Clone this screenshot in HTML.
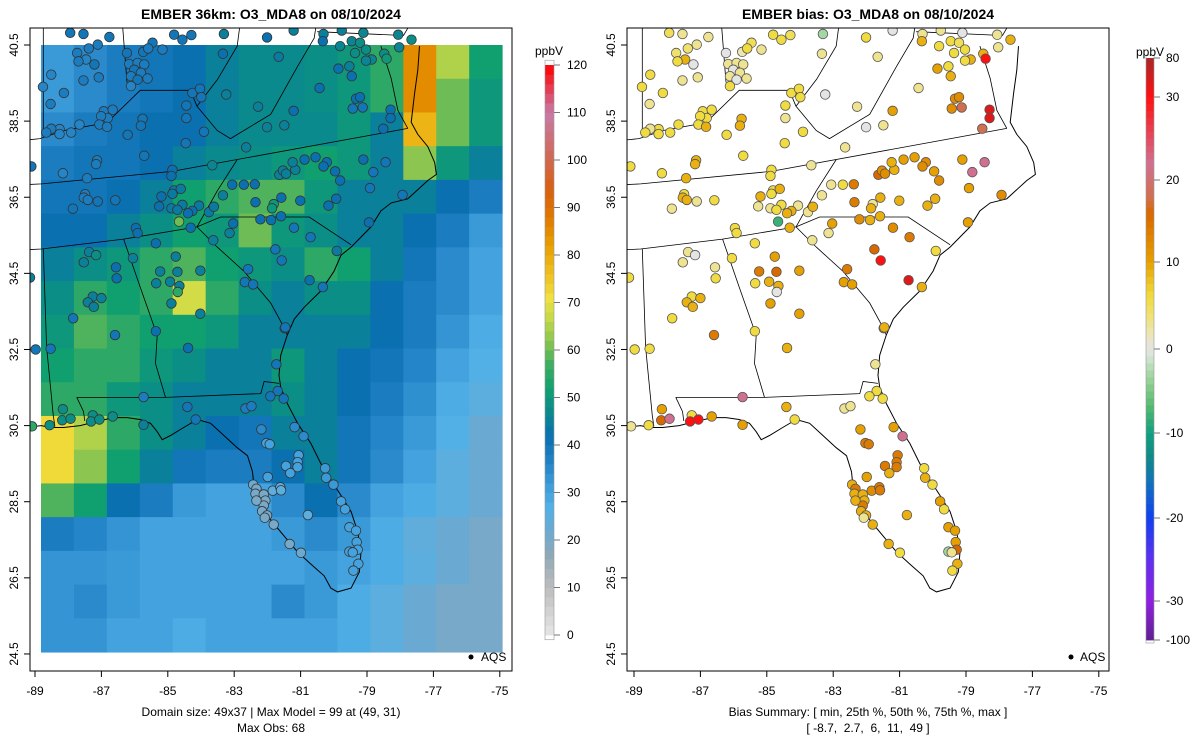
<!DOCTYPE html>
<html><head><meta charset="utf-8">
<style>
html,body{margin:0;padding:0;background:#fff;}
svg{display:block;font-family:"Liberation Sans",sans-serif;}
</style></head>
<body>
<svg id="chart" width="1200" height="750" viewBox="0 0 1200 750">
  <defs>
    <clipPath id="clipL"><rect x="30" y="28" width="482" height="643"/></clipPath>
    <clipPath id="clipR"><rect x="627" y="28" width="482" height="643"/></clipPath>
  </defs>
  <text x="271" y="19" text-anchor="middle" font-size="14" font-weight="bold">EMBER 36km: O3_MDA8 on 08/10/2024</text>
  <text x="868" y="19" text-anchor="middle" font-size="14" font-weight="bold">EMBER bias: O3_MDA8 on 08/10/2024</text>
  <g id="gridL" clip-path="url(#clipL)"></g>
  <g id="linesL" clip-path="url(#clipL)"></g>
  <g id="sitesL" clip-path="url(#clipL)"></g>
  <g id="linesR" clip-path="url(#clipR)"></g>
  <g id="sitesR" clip-path="url(#clipR)"></g>
  <rect x="30" y="28" width="482" height="643" fill="none" stroke="#000" stroke-width="1"/>
  <rect x="627" y="28" width="482" height="643" fill="none" stroke="#000" stroke-width="1"/>
  <g id="axes"></g>
  <g id="cbL"></g>
  <g id="cbR"></g>
  <circle cx="471" cy="657" r="2.5" fill="#000"/>
  <text x="481" y="661" font-size="12">AQS</text>
  <circle cx="1071" cy="657" r="2.5" fill="#000"/>
  <text x="1080" y="661" font-size="12">AQS</text>
  <text x="271" y="716" text-anchor="middle" font-size="12">Domain size: 49x37 | Max Model = 99 at (49, 31)</text>
  <text x="271" y="732" text-anchor="middle" font-size="12">Max Obs: 68</text>
  <text x="868" y="716" text-anchor="middle" font-size="12">Bias Summary: [ min, 25th %, 50th %, 75th %, max ]</text>
  <text x="868" y="732" text-anchor="middle" font-size="12" xml:space="preserve">[ -8.7,  2.7,  6,  11,  49 ]</text>
</svg>
<script>
// ---------- data ----------
const xTicks = [-89,-87,-85,-83,-81,-79,-77,-75];
const yTicks = [24.5,26.5,28.5,30.5,32.5,34.5,36.5,38.5,40.5];
const modelTicks = [0,10,20,30,40,50,60,70,80,90,100,110,120];
const biasTicks = [-100,-30,-20,-10,0,10,20,30,80];
const gridLonRange = [-88.82, -74.93];
const gridLatRange = [24.55, 40.5];
// model O3 grid (rows north->south, cols west->east), ppbV
const gridValues = [
[32,35,38,40,42,45,47,47,48,50,55,85,65,52],
[32,35,38,40,42,45,47,47,48,50,55,85,60,50],
[35,38,40,42,42,45,47,47,47,50,45,78,60,50],
[38,40,40,42,45,47,48,50,52,50,45,62,50,45],
[40,40,42,45,52,55,58,58,50,45,45,45,42,38],
[42,42,45,48,52,50,60,50,48,45,45,42,38,32],
[45,48,50,55,58,52,50,48,55,52,45,40,35,30],
[48,55,52,55,68,55,48,45,48,48,42,38,35,30],
[50,58,55,52,52,50,45,45,45,45,42,38,33,28],
[52,55,55,50,48,45,45,50,45,42,40,36,30,27],
[55,55,50,48,45,45,45,48,45,42,38,34,28,25],
[72,65,55,48,45,42,40,45,45,40,36,32,27,22],
[72,62,52,45,40,38,38,42,45,40,35,30,25,22],
[58,52,42,38,32,30,30,35,42,35,30,28,25,22],
[38,36,33,30,30,30,30,32,35,32,28,24,22,20],
[33,33,32,30,30,30,30,30,32,30,28,25,22,20],
[33,35,32,30,30,30,30,35,32,28,25,22,20,20],
[33,33,30,30,28,30,30,30,30,28,25,22,20,20]
];
const siteLon = [-87.94,-87.54,-86.76,-87.38,-87.11,-87.73,-87.46,-87.69,-87.21,-87.54,-87.08,-88.51,-88.76,-88.13,-88.53,-86.23,-85.74,-85.46,-85.59,-85.16,-86.16,-85.91,-85.71,-86.01,-85.81,-86.11,-85.91,-85.61,-86.11,-84.81,-84.56,-84.29,-83.34,-83.31,-82.01,-81.66,-81.21,-80.31,-79.76,-79.11,-78.06,-78.03,-80.33,-79.81,-79.46,-79.21,-79.36,-79.03,-79.53,-78.86,-79.03,-78.48,-78.41,-77.66,-79.86,-79.46,-80.43,-84.26,-84.03,-83.99,-83.24,-82.28,-81.21,-79.33,-79.21,-79.43,-79.13,-78.29,-78.29,-78.51,-82.01,-81.49,-82.64,-84.44,-84.44,-85.76,-85.81,-86.21,-85.71,-84.46,-83.91,-86.93,-86.81,-86.66,-87.01,-87.06,-86.83,-87.66,-87.91,-88.26,-88.26,-88.51,-88.66,-87.13,-87.16,-88.16,-87.43,-83.66,-84.86,-84.89,-87.49,-87.53,-87.41,-87.11,-86.58,-87.86,-89.11,-84.81,-84.61,-85.19,-84.86,-85.26,-84.89,-84.56,-84.71,-84.06,-83.76,-83.61,-84.26,-84.39,-84.66,-84.31,-85.96,-85.91,-85.36,-83.63,-83.14,-83.03,-83.06,-82.71,-82.38,-83.34,-82.36,-81.81,-81.86,-82.21,-81.89,-81.59,-81.58,-81.64,-81.53,-81.44,-81.16,-81.24,-80.88,-80.55,-80.21,-80.31,-79.96,-79.81,-81.01,-80.16,-79.93,-79.11,-78.44,-78.81,-78.91,-77.93,-78.94,-81.20,-80.70,-79.91,-81.76,-81.57,-82.58,-82.68,-82.43,-80.73,-80.33,-81.48,-84.76,-85.23,-84.71,-84.02,-85.35,-84.93,-84.65,-84.70,-84.89,-84.02,-87.37,-87.16,-87.53,-86.05,-86.56,-86.54,-87.26,-87.00,-87.41,-87.23,-87.85,-86.59,-85.36,-89.15,-88.98,-88.53,-84.39,-81.46,-81.73,-81.69,-81.91,-81.51,-82.66,-82.48,-85.73,-84.41,-84.16,-88.16,-88.18,-87.93,-87.26,-87.31,-87.06,-86.66,-85.73,-88.56,-89.09,-82.18,-81.18,-80.91,-82.03,-81.93,-81.06,-81.09,-81.09,-81.44,-81.31,-81.99,-80.26,-80.23,-80.01,-82.43,-82.33,-82.36,-82.11,-82.06,-82.11,-82.33,-82.16,-82.01,-82.08,-81.84,-81.61,-81.59,-81.81,-80.78,-79.78,-79.66,-79.53,-79.33,-79.31,-79.28,-79.53,-79.43,-79.26,-79.41,-81.33,-80.99];
const siteLat = [40.82,40.79,40.71,40.41,40.51,40.29,40.12,40.07,39.99,39.57,39.65,39.72,39.40,39.24,38.95,40.29,40.32,40.56,40.41,40.38,40.00,40.03,39.99,39.85,39.77,39.68,39.59,39.62,39.42,40.77,40.64,40.76,40.27,40.79,40.70,40.19,40.88,40.79,40.88,40.82,40.77,40.44,40.60,40.47,40.60,40.56,40.29,40.38,39.94,40.12,40.09,40.27,40.14,40.64,39.88,39.68,39.37,39.24,39.35,39.13,39.20,38.88,38.77,39.09,39.13,38.83,38.86,38.80,38.58,38.30,38.34,38.39,37.81,38.91,38.58,38.56,38.38,38.14,37.59,37.92,38.22,38.76,38.58,38.80,38.63,38.41,38.35,38.41,38.20,38.29,38.16,38.30,38.20,37.47,37.37,37.13,37.00,37.34,37.22,37.06,36.58,36.49,36.43,36.39,36.42,36.20,37.31,36.68,36.72,36.52,36.59,36.26,36.21,36.30,36.17,36.28,36.11,36.25,36.14,36.08,35.86,35.70,35.69,35.56,35.29,35.37,35.56,35.81,36.83,36.83,36.84,36.55,36.37,36.32,36.21,35.92,35.90,36.00,36.49,37.09,37.20,37.12,37.22,37.42,37.49,37.55,37.42,37.31,37.18,36.94,36.41,36.28,36.46,37.49,37.42,37.16,36.74,36.56,35.84,35.70,35.45,35.09,35.13,34.84,34.61,34.27,34.21,34.32,34.14,33.06,34.94,34.55,34.54,34.57,34.24,34.28,34.17,34.01,33.71,33.44,35.06,34.98,34.79,34.90,34.66,34.37,33.89,33.85,33.74,33.62,33.32,32.88,32.98,34.39,32.50,32.52,32.54,33.08,32.11,31.41,31.27,31.21,30.95,31.01,31.25,30.99,30.66,30.93,30.64,30.68,30.77,30.61,30.66,30.74,30.52,30.51,30.48,30.40,30.46,30.22,30.04,30.01,29.72,29.54,29.41,29.44,29.25,29.15,29.38,29.13,28.95,28.95,28.84,28.71,28.69,28.53,28.40,28.53,28.25,28.14,28.08,28.79,28.88,28.80,27.90,28.15,28.51,28.30,27.83,27.74,27.44,27.24,27.19,27.17,26.87,26.69,27.39,27.16];
const siteObs = [40,40,40,38,38,38,36,38,40,38,38,36,36,38,38,40,40,40,38,38,38,38,38,40,38,38,40,38,36,40,40,40,42,45,42,44,45,45,45,46,46,46,42,46,46,48,48,48,45,46,46,48,50,48,42,42,42,40,40,40,45,45,42,42,42,40,40,42,42,42,45,45,45,40,40,40,40,40,40,40,40,38,38,38,38,38,38,36,36,36,36,38,38,38,38,36,38,46,42,42,38,38,38,40,40,40,40,44,44,42,44,42,44,44,44,44,44,44,42,42,60,42,42,42,42,45,45,42,42,42,42,45,42,50,50,42,42,42,42,45,45,45,45,45,42,42,42,42,42,42,42,42,42,42,40,40,40,40,42,40,40,44,40,40,40,40,40,42,40,40,45,45,45,45,45,45,45,55,45,45,45,48,45,45,42,42,45,45,45,45,40,40,42,45,40,40,42,40,40,40,40,40,38,38,38,40,40,48,48,48,48,48,48,48,45,48,55,35,35,35,30,30,30,30,30,30,30,30,32,32,32,22,20,20,20,20,20,20,20,20,20,25,25,25,20,25,30,30,30,30,30,30,30,30,30,30,20,22];
const siteBias = [5,3,3,4,3,4,9,6,0,3,3,6,6,6,3,0,2,5,6,3,3,3,3,0,3,3,0,3,6,6,6,5,3,-3,6,3,0,3,3,0,3,3,9,6,6,5,6,6,6,9,6,9,30,9,10,9,3,6,6,6,0,3,10,12,12,12,18,50,50,18,0,3,3,6,3,9,9,6,6,6,6,6,6,6,6,6,9,6,6,6,6,3,6,9,9,6,9,3,6,6,6,9,9,3,6,3,6,6,9,9,6,3,3,6,6,3,3,9,9,9,-8,9,6,6,6,3,3,10,3,6,14,3,14,3,9,12,9,9,9,16,12,12,9,9,10,10,12,12,10,12,9,9,9,10,22,22,10,12,10,12,14,6,16,30,14,10,10,50,9,9,10,14,16,10,6,9,9,0,10,10,3,0,3,6,3,6,6,9,9,9,6,14,6,6,6,6,9,9,3,6,6,6,3,3,22,9,6,10,16,22,6,30,30,10,10,6,3,10,10,22,14,14,14,14,14,14,9,10,6,9,6,9,14,9,9,9,14,9,9,9,3,12,14,14,9,9,10,6,10,10,10,16,-3,3,9,6,9,6];

// boundaries (lon/lat)
const coastline = [[-77.42,40.47],[-77.47,39.84],[-77.57,39.21],[-77.67,38.47],[-77.47,38.15],[-77.17,37.83],[-76.96,37.41],[-76.91,37.10],[-77.17,36.94],[-77.77,36.46],[-78.27,36.35],[-78.58,36.14],[-78.88,35.72],[-79.48,35.19],[-79.78,34.98],[-79.99,34.56],[-80.39,34.04],[-80.89,33.61],[-81.19,33.30],[-81.40,32.88],[-81.60,32.35],[-81.65,31.82],[-81.60,31.51],[-81.40,31.08],[-81.09,30.56],[-80.69,30.03],[-80.39,29.50],[-80.09,29.08],[-79.78,28.66],[-79.48,28.24],[-79.28,27.71],[-79.18,27.18],[-79.23,26.66],[-79.48,26.23],[-79.89,26.13],[-80.09,26.23],[-80.29,26.55],[-80.69,26.86],[-81.09,27.18],[-81.40,27.50],[-81.70,27.81],[-82.00,28.13],[-82.20,28.45],[-82.40,28.87],[-82.45,29.29],[-82.60,29.71],[-82.91,29.92],[-83.31,30.24],[-83.71,30.56],[-84.11,30.66],[-84.52,30.45],[-84.92,30.24],[-85.17,30.13],[-85.32,30.34],[-85.52,30.56],[-85.83,30.66],[-86.23,30.71],[-86.63,30.71],[-87.14,30.61],[-87.64,30.50],[-88.14,30.45],[-88.55,30.45],[-88.80,30.50],[-89.3,30.45]];
const stateLines = [
 [[-89.3,36.83],[-88.80,36.85],[-84.87,37.18],[-77.77,38.31]],
 [[-89.3,35.12],[-88.80,35.14],[-86.33,35.40],[-84.12,35.72]],
 [[-84.12,35.72],[-83.41,35.98],[-80.74,35.98],[-79.48,35.25]],
 [[-84.12,35.72],[-83.51,35.19],[-82.71,34.56],[-81.90,33.72],[-81.50,33.08],[-81.40,32.88]],
 [[-86.33,35.40],[-85.83,34.14],[-85.32,32.87],[-85.37,32.13],[-85.07,31.24]],
 [[-87.74,31.24],[-85.07,31.24],[-82.20,31.34],[-82.10,31.66],[-81.65,31.61]],
 [[-87.74,31.24],[-87.54,30.87],[-87.50,30.62]],
 [[-88.75,35.14],[-88.65,32.56],[-88.45,30.76],[-88.40,30.48]],
 [[-89.3,38.0],[-88.85,38.04],[-88.14,38.25],[-86.83,38.46],[-85.83,39.31],[-84.32,39.31],[-84.12,38.89]],
 [[-84.12,38.89],[-83.51,38.25],[-83.11,38.04],[-81.90,38.68],[-81.09,39.94],[-80.59,40.68],[-80.5,41.2]],
 [[-84.12,38.89],[-83.5,39.6],[-82.91,40.47],[-82.8,41.2]],
 [[-82.91,37.49],[-83.51,36.67],[-84.12,35.72]],
 [[-88.75,41.2],[-88.75,38.2]],
 [[-86.38,41.2],[-86.23,39.52]],
 [[-78.58,40.47],[-78.27,39.62],[-78.07,38.78],[-77.77,38.31]],
 [[-80.5,40.85],[-77.9,40.75],[-77.6,41.2]]
];

// ---------- axis functions ----------
const PX_LON = 33.2, PX_LAT = 38.06;
function xL(lon){ return 35 + (lon + 89) * PX_LON; }
function xR(lon){ return 634 + (lon + 89) * PX_LON; }
function yM(lat){ return 45 + (40.5 - lat) * PX_LAT; }
const cbLy = v => 635 - v * 4.75;
const biasTickPos = [640,601,518,433,349,262,180,97,58];
function cbRy(v){
  for (let i=0;i<biasTicks.length-1;i++){
    if (v>=biasTicks[i] && v<=biasTicks[i+1]){
      const f=(v-biasTicks[i])/(biasTicks[i+1]-biasTicks[i]);
      return biasTickPos[i]+f*(biasTickPos[i+1]-biasTickPos[i]);
    }
  }
  return v<biasTicks[0]?biasTickPos[0]:biasTickPos[biasTickPos.length-1];
}

// ---------- colour scales ----------
const modelStops=[[0,'#e6e6e6'],[10,'#bdbdbd'],[17,'#8fa8b8'],[22,'#6aaad2'],[27,'#52b0e6'],[32,'#3a9ad8'],[37,'#1f80c4'],[42,'#0a70b0'],[47,'#0a8a8c'],[52,'#10a070'],[57,'#40ae60'],[62,'#8cc650'],[67,'#c8da48'],[71,'#f0e040'],[76,'#eec020'],[82,'#e8a000'],[88,'#e07800'],[94,'#d86010'],[100,'#d06850'],[110,'#c87aa8'],[120,'#ff0000']];
const biasStops=[[-100,'#602090'],[-30,'#9020e0'],[-25,'#6030f0'],[-20,'#1040f0'],[-16,'#1070c0'],[-13,'#108888'],[-10,'#10a080'],[-7,'#50b870'],[-4,'#90d090'],[-1,'#d0e4d0'],[0,'#e4e4e4'],[2,'#ece6b0'],[4,'#f0e070'],[6,'#f0dc40'],[8,'#ecc020'],[10,'#e6a000'],[13,'#e08400'],[16,'#d86800'],[18,'#d07050'],[22,'#d07090'],[26,'#e84050'],[30,'#ff1010'],[80,'#a82828']];
function hex(c){return [parseInt(c.slice(1,3),16),parseInt(c.slice(3,5),16),parseInt(c.slice(5,7),16)];}
function ramp(stops,v){
  if(v<=stops[0][0]) return stops[0][1];
  for(let i=0;i<stops.length-1;i++){
    if(v<=stops[i+1][0]){
      const f=(v-stops[i][0])/(stops[i+1][0]-stops[i][0]);
      const a=hex(stops[i][1]),b=hex(stops[i+1][1]);
      return 'rgb('+a.map((x,k)=>Math.round(x+f*(b[k]-x))).join(',')+')';
    }
  }
  return stops[stops.length-1][1];
}

const NS='http://www.w3.org/2000/svg';
function mk(tag,attrs,parent){const e=document.createElementNS(NS,tag);for(const k in attrs)e.setAttribute(k,attrs[k]);parent.appendChild(e);return e;}

// ---------- model grid ----------
const gL=document.getElementById('gridL');
const nR=gridValues.length,nC=gridValues[0].length;
const dLon=(gridLonRange[1]-gridLonRange[0])/nC, dLat=(gridLatRange[1]-gridLatRange[0])/nR;
for(let r=0;r<nR;r++){for(let c=0;c<nC;c++){
  const lon0=gridLonRange[0]+c*dLon, lat0=gridLatRange[1]-r*dLat;
  const x0=xL(lon0), x1=xL(lon0+dLon), y0=yM(lat0), y1=yM(lat0-dLat);
  const el=mk('rect',{x:x0,y:y0,width:x1-x0+0.5,height:y1-y0+0.5,fill:ramp(modelStops,gridValues[r][c])},gL);
  
  
}}

// ---------- boundaries ----------
function drawLines(g,xf){
  const cp=coastline.map(p=>xf(p[0]).toFixed(1)+','+yM(p[1]).toFixed(1)).join(' ');
  const c=mk('polyline',{points:cp,fill:'none',stroke:'#000','stroke-width':1},g);
  
  
  stateLines.forEach(line=>{
    const pts=line.map(p=>xf(p[0]).toFixed(1)+','+yM(p[1]).toFixed(1)).join(' ');
    const s=mk('polyline',{points:pts,fill:'none',stroke:'#000','stroke-width':0.8},g);
    
    
  });
}
drawLines(document.getElementById('linesL'),xL);
drawLines(document.getElementById('linesR'),xR);

// ---------- sites ----------
const nS=Math.min(siteLon.length,siteLat.length,siteObs.length,siteBias.length);
const sL=document.getElementById('sitesL'), sR=document.getElementById('sitesR');
for(let i=0;i<nS;i++){
  const a=mk('circle',{cx:xL(siteLon[i]),cy:yM(siteLat[i]),r:4.8,fill:ramp(modelStops,siteObs[i]),stroke:'#333','stroke-width':0.8},sL);
  
  
  const b=mk('circle',{cx:xR(siteLon[i]),cy:yM(siteLat[i]),r:4.8,fill:ramp(biasStops,siteBias[i]),stroke:'#555','stroke-width':0.8},sR);
  
  
}

// ---------- axes ----------
const ax=document.getElementById('axes');
[[xL,30],[xR,627]].forEach(([xf,left])=>{
  xTicks.forEach(t=>{
    const x=xf(t);
    mk('line',{x1:x,y1:671,x2:x,y2:677,stroke:'#000'},ax);
    const tx=mk('text',{x:x,y:695,'text-anchor':'middle','font-size':12},ax);
    tx.textContent=String(t);
    
    
  });
  yTicks.forEach(t=>{
    const y=yM(t);
    mk('line',{x1:left-6,y1:y,x2:left,y2:y,stroke:'#000'},ax);
    const tx=mk('text',{x:0,y:0,'text-anchor':'middle','font-size':12,transform:'translate('+(left-12)+','+y+') rotate(-90)'},ax);
    tx.textContent=t.toFixed(1);
    
    
  });
});

// ---------- colorbars ----------
const cL=document.getElementById('cbL');
for(let v=0;v<120;v+=2){
  const el=mk('rect',{x:545,y:cbLy(v+2),width:9,height:cbLy(v)-cbLy(v+2)+0.4,fill:ramp(modelStops,v+1)},cL);
  
  
}
mk('rect',{x:545,y:cbLy(121),width:9,height:cbLy(-1)-cbLy(121),fill:'none',stroke:'#999','stroke-width':0.6},cL);
modelTicks.forEach(t=>{
  const y=cbLy(t);
  mk('line',{x1:554,y1:y,x2:560,y2:y,stroke:'#777'},cL);
  const tx=mk('text',{x:567,y:y+4,'font-size':12},cL);
  tx.textContent=String(t);
  
  
});
const uL=mk('text',{x:549,y:55,'text-anchor':'middle','font-size':12},cL);
uL.textContent='ppbV';



const cR=document.getElementById('cbR');
for(let i=0;i<biasTicks.length-1;i++){
  const steps=12;
  for(let s=0;s<steps;s++){
    const v0=biasTicks[i]+(biasTicks[i+1]-biasTicks[i])*s/steps;
    const v1=biasTicks[i]+(biasTicks[i+1]-biasTicks[i])*(s+1)/steps;
    const el=mk('rect',{x:1146,y:cbRy(v1),width:8,height:cbRy(v0)-cbRy(v1)+0.4,fill:ramp(biasStops,(v0+v1)/2)},cR);
    
    
  }
}
mk('rect',{x:1146,y:cbRy(80)-3,width:8,height:cbRy(-100)-cbRy(80)+6,fill:'none',stroke:'#999','stroke-width':0.6},cR);
biasTicks.forEach(t=>{
  const y=cbRy(t);
  mk('line',{x1:1154,y1:y,x2:1160,y2:y,stroke:'#777'},cR);
  const tx=mk('text',{x:1166,y:y+4,'font-size':12},cR);
  tx.textContent=String(t);
  
  
});
const uR=mk('text',{x:1150,y:56,'text-anchor':'middle','font-size':12},cR);
uR.textContent='ppbV';


</script>
</body></html>
